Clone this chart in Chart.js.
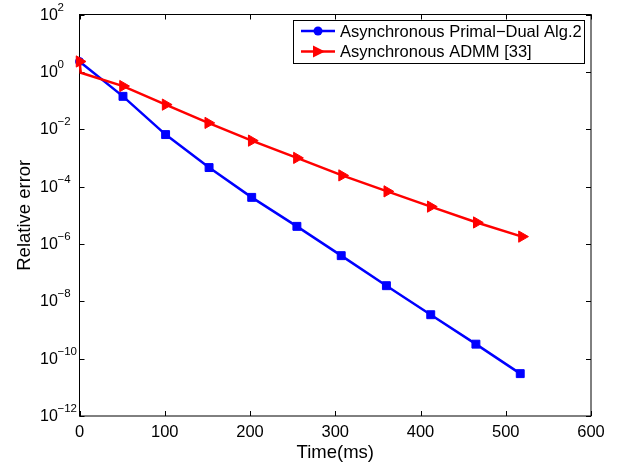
<!DOCTYPE html>
<html>
<head>
<meta charset="utf-8">
<script src="https://cdn.jsdelivr.net/npm/chart.js@4.4.1/dist/chart.umd.min.js"></script>
<style>
  body { margin: 0; background: #fff; }
  #box { width: 622px; height: 463px; }
</style>
</head>
<body>
<div id="box"><canvas id="c" width="622" height="463"></canvas></div>
<script>
// values
const timesPD = [0, 51, 101, 152, 202, 255, 307, 360, 412, 465, 517]
const errorPD = [2.3, 1.4e-1, 6.5e-3, 4.6e-4, 4.2e-5, 4.1e-6, 3.9e-7, 3.5e-8, 3.4e-9, 3.2e-10, 3.0e-11]

const timesADMM = [0, 1.5, 51, 101, 151, 202, 255, 308, 361, 412, 466, 519]
const errorADMM = [2.3, 0.93, 0.32, 7.2e-2, 1.66e-2, 4.0e-3, 1.0e-3, 2.45e-4, 6.8e-5, 2.0e-5, 5.6e-6, 1.8e-6]

const seriesNames = ["Asynchronous Primal\u2212Dual Alg.2", "Asynchronous ADMM [33]"]
const xTicks = [0, 100, 200, 300, 400, 500, 600]
const yExponents = [2, 0, -2, -4, -6, -8, -10, -12]
const xTitle = "Time(ms)"
const yTitle = "Relative error"

const FONT = "'Liberation Sans', Arial, Helvetica, sans-serif"
const BLUE = "#0000ff"
const RED = "#ff0000"

function toPoints(xs, ys) {
    return xs.map((x, i) => ({ x: x, y: ys[i] }))
}

const matlabAxes = {
    id: "matlabAxes",
    beforeDatasetsDraw(chart) {
        const ctx = chart.ctx
        const a = chart.chartArea
        const xs = chart.scales.x
        const ys = chart.scales.y
        ctx.save()
        ctx.strokeStyle = "#000"
        ctx.lineWidth = 1
        ctx.strokeRect(a.left, a.top, a.right - a.left, a.bottom - a.top)
        const tl = 5
        ctx.beginPath()
        xTicks.forEach(t => {
            const px = Math.round(xs.getPixelForValue(t)) + 0.5
            ctx.moveTo(px, a.bottom); ctx.lineTo(px, a.bottom - tl)
            ctx.moveTo(px, a.top); ctx.lineTo(px, a.top + tl)
        })
        yExponents.forEach(e => {
            const py = Math.round(ys.getPixelForValue(Math.pow(10, e))) + 0.5
            ctx.moveTo(a.left, py); ctx.lineTo(a.left + tl, py)
            ctx.moveTo(a.right, py); ctx.lineTo(a.right - tl, py)
        })
        ctx.stroke()
        ctx.restore()
    },
    afterDraw(chart) {
        const ctx = chart.ctx
        const a = chart.chartArea
        const xs = chart.scales.x
        const ys = chart.scales.y
        ctx.save()
        ctx.fillStyle = "#000"

        // x tick labels
        ctx.font = "16.5px " + FONT
        ctx.textAlign = "center"
        ctx.textBaseline = "alphabetic"
        xTicks.forEach(t => {
            ctx.fillText(String(t), xs.getPixelForValue(t), 437)
        })

        // y tick labels 10^n
        yExponents.forEach(e => {
            const py = ys.getPixelForValue(Math.pow(10, e))
            ctx.textAlign = "left"
            ctx.font = "16px " + FONT
            ctx.fillText("10", 40, py + 5)
            ctx.font = "11.5px " + FONT
            ctx.fillText(String(e).replace("-", "\u2212"), 57.5, py - 4)
        })

        // axis titles
        ctx.font = "18.5px " + FONT
        ctx.textAlign = "center"
        ctx.fillText(xTitle, (a.left + a.right) / 2, 458)
        ctx.save()
        ctx.translate(30, (a.top + a.bottom) / 2)
        ctx.rotate(-Math.PI / 2)
        ctx.fillText(yTitle, 0, 0)
        ctx.restore()

        // legend
        const lx = 293.5, ly = 20.5, lw = 291, lh = 43
        ctx.fillStyle = "#fff"
        ctx.fillRect(lx, ly, lw, lh)
        ctx.strokeStyle = "#000"
        ctx.lineWidth = 1
        ctx.strokeRect(lx, ly, lw, lh)
        const rows = [
            { y: 31, color: BLUE, marker: "circle" },
            { y: 51.5, color: RED, marker: "triangle" }
        ]
        rows.forEach((r, i) => {
            ctx.strokeStyle = r.color
            ctx.fillStyle = r.color
            ctx.lineWidth = 2.5
            ctx.beginPath()
            ctx.moveTo(301, r.y); ctx.lineTo(335, r.y)
            ctx.stroke()
            ctx.beginPath()
            if (r.marker === "circle") {
                ctx.arc(318, r.y, 4.5, 0, Math.PI * 2)
            } else {
                ctx.moveTo(325, r.y)
                ctx.lineTo(313, r.y - 6)
                ctx.lineTo(313, r.y + 6)
                ctx.closePath()
            }
            ctx.fill()
            ctx.fillStyle = "#000"
            ctx.font = "16.5px " + FONT
            ctx.textAlign = "left"
            ctx.textBaseline = "middle"
            ctx.fillText(seriesNames[i], 340, r.y + 1)
        })
        ctx.restore()
    }
}

const canvas = document.getElementById("c")

new Chart(canvas, {
    type: "line",
    data: {
        datasets: [
            {
                label: seriesNames[0],
                data: toPoints(timesPD, errorPD),
                borderColor: BLUE,
                backgroundColor: BLUE,
                borderWidth: 2.5,
                tension: 0,
                pointStyle: errorPD.map((v, i) => i === 0 ? "circle" : "rect"),
                pointRadius: errorPD.map((v, i) => i === 0 ? 4 : 5.6),
                pointBorderWidth: 1,
                clip: false,
                order: 2
            },
            {
                label: seriesNames[1],
                data: toPoints(timesADMM, errorADMM),
                borderColor: RED,
                backgroundColor: RED,
                borderWidth: 2.5,
                tension: 0,
                pointStyle: "triangle",
                rotation: 90,
                pointRadius: errorADMM.map((v, i) => i === 1 ? 0 : 6.5),
                pointBorderWidth: 1,
                clip: false,
                order: 1
            }
        ]
    },
    options: {
        responsive: false,
        animation: false,
        events: [],
        layout: { padding: { left: 79.5, right: 31, top: 14.5, bottom: 47 } },
        plugins: {
            legend: { display: false },
            tooltip: { enabled: false }
        },
        scales: {
            x: {
                type: "linear",
                min: 0,
                max: 600,
                grid: { display: false },
                border: { display: false },
                ticks: { display: false },
                afterFit: s => { s.height = 0 }
            },
            y: {
                type: "logarithmic",
                min: 1e-12,
                max: 1e2,
                grid: { display: false },
                border: { display: false },
                ticks: { display: false },
                afterFit: s => { s.width = 0 }
            }
        }
    },
    plugins: [matlabAxes]
})
</script>
</body>
</html>
